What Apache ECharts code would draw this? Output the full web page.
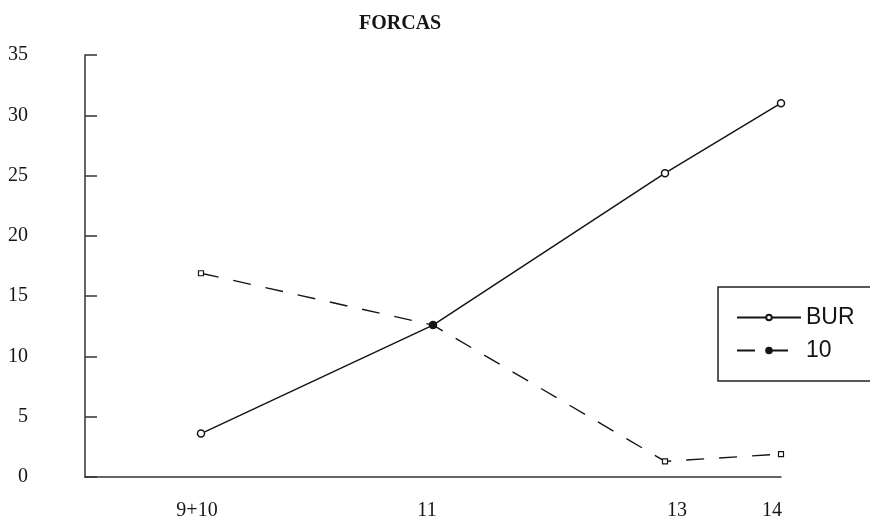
<!DOCTYPE html>
<html>
<head>
<meta charset="utf-8">
<script src="https://cdn.jsdelivr.net/npm/echarts@6/dist/echarts.min.js"></script>
<style>html,body{margin:0;padding:0;background:#fff}#c{width:870px;height:522px}</style>
</head>
<body>
<div id="c"></div>
<script>
// ---- data ----
const xTickValues = [9, 11, 13, 14];
const xTickLabels = ['9+10', '11', '13', '14'];
const seriesNames = ['BUR', '10'];
const burValues = [3.6, 12.6, 25.2, 31.0];
const tenValues = [16.9, 12.6, 1.3, 1.9];
const yTicks = [0, 5, 10, 15, 20, 25, 30, 35];

// ---- style ----
const ink = '#151515';
const serif = '"Liberation Serif", "Times New Roman", serif';
const labelShiftPx = [-4, -6, 12, -9]; // horizontal nudge of each x label, as in the source scan

function labelFor(v) {
  const i = xTickValues.indexOf(v);
  if (i < 0) return '';
  const s = labelShiftPx[i];
  return '{' + (s >= 0 ? 'r' : 'l') + Math.abs(s) + '|' + xTickLabels[i] + '}';
}
const rich = {};
labelShiftPx.forEach(s => {
  const key = (s >= 0 ? 'r' : 'l') + Math.abs(s);
  rich[key] = {
    fontFamily: serif, fontSize: 20, color: ink,
    padding: s >= 0 ? [0, 0, 0, 2 * s] : [0, -2 * s, 0, 0]
  };
});

const burData = xTickValues.map((x, i) => [x, burValues[i]]);
const tenData = xTickValues.map((x, i) => {
  const item = { value: [x, tenValues[i]] };
  if (x !== 11) {
    item.symbol = 'rect';
    item.symbolSize = 5;
    item.itemStyle = { color: '#fff', borderColor: ink, borderWidth: 1.2 };
  }
  return item;
});

const chart = echarts.init(document.getElementById('c'));
chart.setOption({
  animation: false,
  backgroundColor: '#fff',
  title: {
    text: 'FORCAS',
    left: 354,
    top: 9,
    textStyle: { fontFamily: serif, fontWeight: 'bold', fontSize: 20, color: ink }
  },
  grid: { left: 85, right: 89, top: 55, bottom: 45 },
  legend: {
    data: seriesNames,
    orient: 'vertical',
    left: 718,
    top: 287,
    padding: [19, 60, 19, 18],
    itemGap: 10,
    itemWidth: 64,
    itemHeight: 7,
    borderColor: '#222',
    borderWidth: 1.5,
    borderRadius: 0,
    textStyle: { fontFamily: '"Liberation Sans", Arial, sans-serif', fontSize: 23, color: ink }
  },
  xAxis: {
    type: 'value',
    min: 8,
    max: 14,
    interval: 1,
    axisLine: { show: true, onZero: false, lineStyle: { color: '#333', width: 1.5 } },
    axisTick: { show: false },
    splitLine: { show: false },
    axisLabel: {
      margin: 24,
      fontFamily: serif,
      fontSize: 20,
      color: ink,
      showMinLabel: true,
      showMaxLabel: true,
      formatter: v => labelFor(v),
      rich: rich
    }
  },
  yAxis: {
    type: 'value',
    min: yTicks[0],
    max: yTicks[yTicks.length - 1],
    interval: 5,
    axisLine: { show: true, lineStyle: { color: '#333', width: 1.5 } },
    axisTick: { show: true, inside: true, length: 12, lineStyle: { color: '#333', width: 1.5 } },
    splitLine: { show: false },
    axisLabel: { margin: 57, fontFamily: serif, fontSize: 20, color: ink }
  },
  series: [
    {
      name: seriesNames[0],
      type: 'line',
      data: burData,
      symbol: 'circle',
      symbolSize: 7,
      showAllSymbol: true,
      lineStyle: { color: ink, width: 1.5, type: 'solid' },
      itemStyle: { color: '#fff', borderColor: ink, borderWidth: 1.5 },
      z: 2
    },
    {
      name: seriesNames[1],
      type: 'line',
      data: tenData,
      symbol: 'circle',
      symbolSize: 7,
      showAllSymbol: true,
      lineStyle: { color: ink, width: 1.4, type: [18, 15] },
      itemStyle: { color: ink, borderColor: ink, borderWidth: 1 },
      z: 3
    }
  ]
});
</script>
</body>
</html>
